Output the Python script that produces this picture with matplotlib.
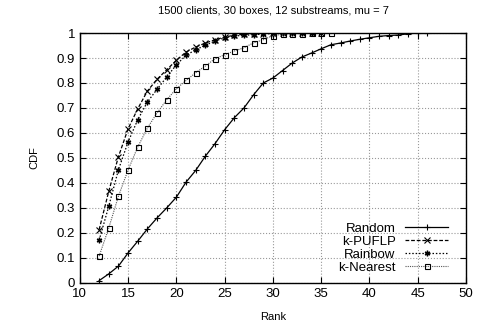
import matplotlib
matplotlib.use('Agg')
import matplotlib.pyplot as plt

plt.rcParams['font.family'] = ['Liberation Sans', 'DejaVu Sans']

# Datos
rank_random = list(range(12, 47))
cdf_random = [0.009, 0.036, 0.067, 0.12, 0.167, 0.216, 0.26, 0.30, 0.343, 0.403,
              0.45, 0.507, 0.557, 0.613, 0.661, 0.70, 0.753, 0.80, 0.82, 0.85,
              0.88, 0.904, 0.92, 0.937, 0.953, 0.96, 0.968, 0.975, 0.981, 0.987,
              0.99, 0.992, 0.997, 1.0, 1.0]

rank_kpuflp = list(range(12, 36))
cdf_kpuflp = [0.213, 0.367, 0.505, 0.617, 0.697, 0.768, 0.815, 0.853, 0.891, 0.924,
              0.944, 0.96, 0.973, 0.984, 0.991, 0.995, 0.997, 0.998, 0.999, 0.999,
              1.0, 1.0, 1.0, 1.0]

rank_rainbow = list(range(12, 35))
cdf_rainbow = [0.171, 0.307, 0.453, 0.564, 0.653, 0.724, 0.775, 0.824, 0.873, 0.911,
               0.933, 0.951, 0.968, 0.981, 0.988, 0.991, 0.993, 0.996, 0.998, 0.999,
               1.0, 1.0, 1.0]

rank_knearest = list(range(12, 37))
cdf_knearest = [0.107, 0.22, 0.347, 0.452, 0.544, 0.62, 0.68, 0.733, 0.777, 0.81,
                0.841, 0.868, 0.897, 0.913, 0.928, 0.941, 0.961, 0.973, 0.99, 0.995,
                0.997, 0.998, 0.999, 1.0, 1.0]

xticks = [10, 15, 20, 25, 30, 35, 40, 45, 50]
yticks = [0, 0.1, 0.2, 0.3, 0.4, 0.5, 0.6, 0.7, 0.8, 0.9, 1]

fig = plt.figure(figsize=(4.78, 3.27), dpi=100)
ax = fig.add_axes([0.167, 0.135, 0.808, 0.764])

ax.plot(rank_random, cdf_random, color='black', lw=0.9, ls='-',
        marker='+', ms=5, mew=0.8, label='Random')
ax.plot(rank_kpuflp, cdf_kpuflp, color='black', lw=0.9, ls=(0, (3, 1.5)),
        marker='x', ms=4, mew=0.8, label='k-PUFLP')
ax.plot(rank_rainbow, cdf_rainbow, color='black', lw=0.9, ls=(0, (1.2, 1.5)),
        marker=(6, 2, 0), ms=4, mew=1.0, label='Rainbow')
ax.plot(rank_knearest, cdf_knearest, color='#555555', lw=0.8, ls=(0, (1, 1)),
        marker='s', ms=3.6, mew=0.8, mfc='none', mec='black', label='k-Nearest')

ax.set_xlim(10, 50)
ax.set_ylim(0, 1)
ax.set_xticks(xticks)
ax.set_yticks(yticks)
ax.set_yticklabels(['0', '0.1', '0.2', '0.3', '0.4', '0.5', '0.6', '0.7', '0.8', '0.9', '1'])
ax.tick_params(direction='in', top=True, right=True, labelsize=9.5, length=4)
ax.grid(True, color='#999999', ls=':', lw=0.8)
for s in ax.spines.values():
    s.set_linewidth(1.0)

ax.set_xlabel('Rank', fontsize=8, labelpad=9)
ax.set_ylabel('CDF', fontsize=8, labelpad=12)
ax.set_title('1500 clients, 30 boxes, 12 substreams, mu = 7', fontsize=8, pad=14)

ax.legend(loc='lower right', frameon=False, markerfirst=False, fontsize=9.5,
          handlelength=3.3, handletextpad=0.7, labelspacing=0.05,
          borderaxespad=0.3, bbox_to_anchor=(0.978, 0.0))

fig.savefig('out.png', dpi=100)
